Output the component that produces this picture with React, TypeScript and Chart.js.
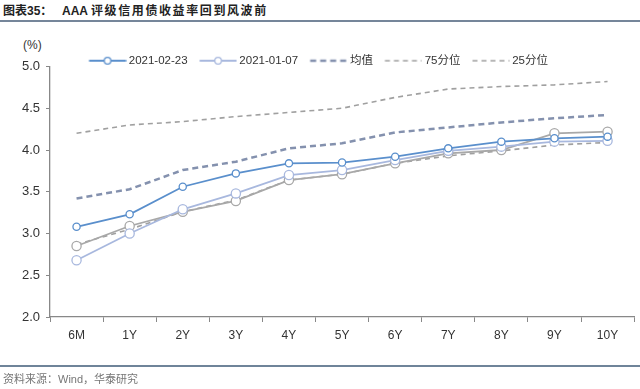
import React, { useEffect, useRef } from "react";
import { Chart, registerables } from "chart.js";

Chart.register(...registerables);

const categories = ["6M", "1Y", "2Y", "3Y", "4Y", "5Y", "6Y", "7Y", "8Y", "9Y", "10Y"];
const s20210223 = [3.08, 3.23, 3.56, 3.72, 3.84, 3.85, 3.92, 4.02, 4.1, 4.14, 4.16];
const s20210107 = [2.68, 3.0, 3.29, 3.48, 3.7, 3.76, 3.88, 3.99, 4.04, 4.1, 4.11];
const sGrey = [2.85, 3.09, 3.26, 3.39, 3.64, 3.71, 3.84, 3.96, 4.0, 4.2, 4.22];
const sMean = [3.42, 3.53, 3.76, 3.86, 4.02, 4.08, 4.21, 4.27, 4.33, 4.38, 4.42];
const s75 = [4.2, 4.3, 4.34, 4.4, 4.45, 4.5, 4.63, 4.73, 4.76, 4.78, 4.82];
const s25 = [2.87, 3.05, 3.26, 3.4, 3.64, 3.71, 3.84, 3.93, 3.99, 4.06, 4.09];
const yTicks = ["2.0", "2.5", "3.0", "3.5", "4.0", "4.5", "5.0"];

const FONT = "'Liberation Sans', Arial, 'Noto Sans CJK SC', sans-serif";

// legend marker: canvas 52 wide, centred in a 45px legend box; marker drawn from x 14.5 to 51.5
function makeMarker(kind: string, color: string, width: number, dash: number[] | null) {
  const c = document.createElement("canvas");
  c.width = 52;
  c.height = 12;
  const ctx = c.getContext("2d")!;
  ctx.strokeStyle = color;
  ctx.lineWidth = width;
  if (dash) ctx.setLineDash(dash);
  ctx.beginPath();
  ctx.moveTo(14.5, 6);
  ctx.lineTo(51.5, 6);
  ctx.stroke();
  if (kind === "point") {
    ctx.setLineDash([]);
    ctx.beginPath();
    ctx.arc(33, 6, 3.3, 0, Math.PI * 2);
    ctx.fillStyle = "#fff";
    ctx.fill();
    ctx.lineWidth = 1.3;
    ctx.stroke();
  }
  return c;
}

// nudge the legend after layout (it keeps its own spacing below the items)
const legendNudge = {
  id: "legendNudge",
  afterLayout(chart: any) {
    const l = chart.legend;
    if (!l) return;
    l.top += 10;
    l.bottom += 10;
    l.left -= 6;
    l.right -= 6;
  },
};

export default function App() {
  const ref = useRef<HTMLCanvasElement>(null);
  useEffect(() => {
    const blue = "#5A8FCC";
    const light = "#A8B8DE";
    const grey = "#A8A8A8";
    const mean = "#8491AE";
    const pct = "#A0A0A0";
    const markers = [
      makeMarker("point", blue, 1.8, null),
      makeMarker("point", light, 1.8, null),
      makeMarker("dash", mean, 2.5, [6, 4]),
      makeMarker("dash", pct, 1.5, [5, 4]),
      makeMarker("dash", pct, 1.5, [5, 4]),
    ];
    const chart = new Chart(ref.current!, {
      type: "line",
      plugins: [legendNudge],
      data: {
        labels: categories,
        datasets: [
          {
            label: "2021-02-23",
            data: s20210223,
            borderColor: blue,
            backgroundColor: "#fff",
            borderWidth: 1.8,
            pointRadius: 3.6,
            pointBorderWidth: 1.3,
            pointBackgroundColor: "#fff",
            pointBorderColor: blue,
            order: 1,
          },
          {
            label: "2021-01-07",
            data: s20210107,
            borderColor: light,
            backgroundColor: "#fff",
            borderWidth: 1.8,
            pointRadius: 4.6,
            pointBorderWidth: 1.3,
            pointBackgroundColor: "#fff",
            pointBorderColor: light,
            order: 2,
          },
          {
            label: "均值",
            data: sMean,
            borderColor: mean,
            borderWidth: 2.5,
            borderDash: [6, 4],
            pointRadius: 0,
            order: 4,
          },
          {
            label: "75分位",
            data: s75,
            borderColor: pct,
            borderWidth: 1.6,
            borderDash: [5, 4],
            pointRadius: 0,
            order: 5,
          },
          {
            label: "25分位",
            data: s25,
            borderColor: pct,
            borderWidth: 1.6,
            borderDash: [5, 4],
            pointRadius: 0,
            order: 6,
          },
          {
            label: "",
            data: sGrey,
            borderColor: grey,
            borderWidth: 1.8,
            pointRadius: 4.6,
            pointBorderWidth: 1.3,
            pointBackgroundColor: "#fff",
            pointBorderColor: grey,
            order: 3,
          },
        ],
      },
      options: {
        animation: false,
        responsive: false,
        layout: { padding: { left: 0, right: 2, top: 44, bottom: 40 } },
        plugins: {
          tooltip: { enabled: false },
          legend: {
            position: "top",
            labels: {
              font: { family: FONT, size: 11.5 },
              color: "#333",
              padding: 1,
              usePointStyle: true,
              pointStyleWidth: 45,
              boxHeight: 12,
              generateLabels: (ch: any) =>
                ch.data.datasets.slice(0, 5).map((d: any, i: number) => ({
                  text: d.label,
                  pointStyle: markers[i],
                  fillStyle: "transparent",
                  strokeStyle: "transparent",
                  lineWidth: 0,
                  hidden: false,
                  datasetIndex: i,
                  fontColor: "#333",
                })),
            },
          },
        },
        scales: {
          x: {
            offset: true,
            grid: {
              offset: true,
              drawOnChartArea: false,
              drawTicks: true,
              tickLength: 5,
              color: "#888",
            },
            border: { color: "#888", width: 1.3 },
            ticks: { font: { family: FONT, size: 12 }, color: "#333", padding: 6 },
            afterFit: (s: any) => {
              s.height = 32;
            },
          },
          y: {
            min: 2,
            max: 5,
            ticks: {
              stepSize: 0.5,
              font: { family: FONT, size: 13 },
              color: "#333",
              padding: 6,
              callback: (v: any) => yTicks[Math.round((Number(v) - 2) / 0.5)] ?? "",
            },
            grid: { drawOnChartArea: false, tickLength: 4, color: "#888" },
            border: { color: "#888", width: 1.3 },
            afterFit: (s: any) => {
              s.width = 50;
            },
          },
        },
      },
    });
    return () => chart.destroy();
  }, []);

  const titleStyle: React.CSSProperties = {
    position: "absolute",
    top: 4,
    fontFamily: FONT,
    fontWeight: "bold",
    fontSize: 12,
    lineHeight: "14px",
    color: "#222",
    whiteSpace: "pre",
  };

  return (
    <div style={{ position: "fixed", left: 0, top: 0, width: 640, height: 389, background: "#fff", overflow: "hidden" }}>
      <div style={{ ...titleStyle, left: 3 }}>图表35：</div>
      <div style={{ ...titleStyle, left: 62 }}>AAA</div>
      <div style={{ ...titleStyle, left: 91, letterSpacing: 1.6 }}>评级信用债收益率回到风波前</div>
      <div style={{ position: "absolute", left: 0, top: 20, width: 640, height: 2, background: "#75869A" }} />
      <div
        style={{
          position: "absolute",
          left: 23,
          top: 38,
          fontFamily: FONT,
          fontSize: 12,
          color: "#333",
        }}
      >
        (%)
      </div>
      <canvas ref={ref} width={640} height={389} style={{ position: "absolute", left: 0, top: 0 }} />
      <div style={{ position: "absolute", left: 0, top: 365, width: 640, height: 1.5, background: "#6F8499" }} />
      <div
        style={{
          position: "absolute",
          left: 3,
          top: 370,
          fontFamily: FONT,
          fontSize: 11,
          color: "#777",
        }}
      >
        资料来源：Wind，华泰研究
      </div>
    </div>
  );
}
